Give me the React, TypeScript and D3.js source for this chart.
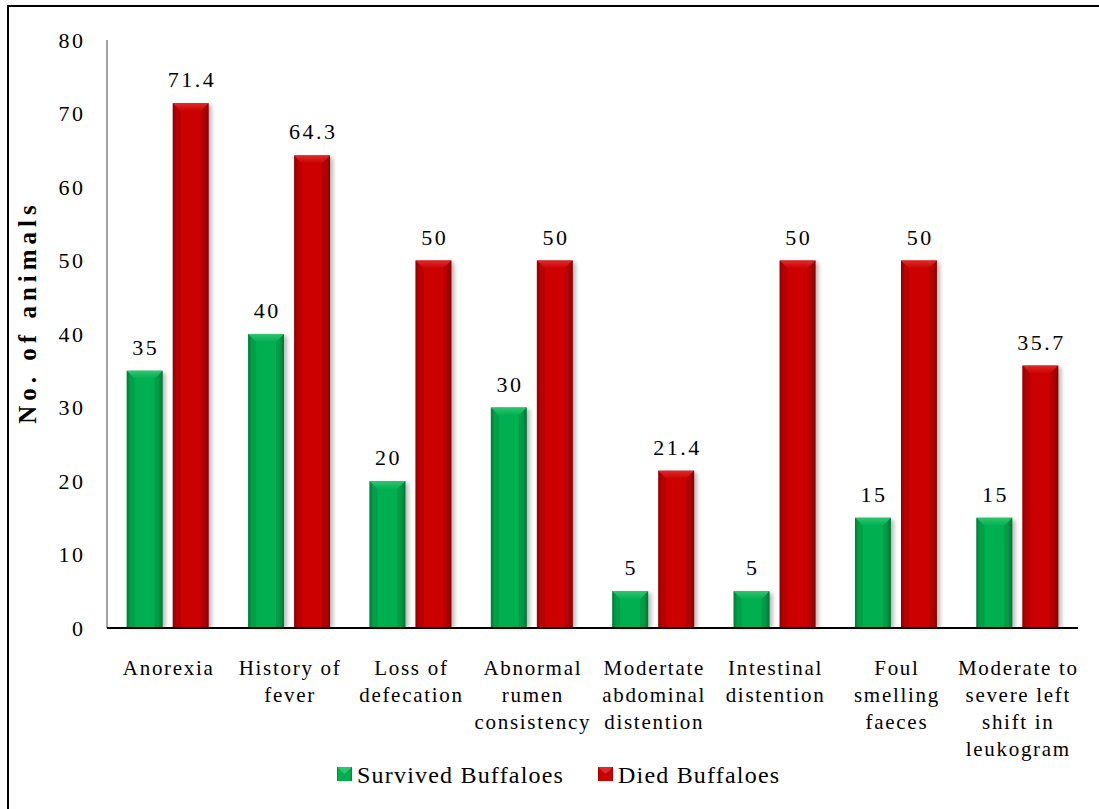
import React from 'react'
import * as d3 from 'd3'

const categories = [
    ['Anorexia'],
    ['History of', 'fever'],
    ['Loss of', 'defecation'],
    ['Abnormal', 'rumen', 'consistency'],
    ['Modertate', 'abdominal', 'distention'],
    ['Intestinal', 'distention'],
    ['Foul', 'smelling', 'faeces'],
    ['Moderate to', 'severe left', 'shift in', 'leukogram'],
]
const survived = [35, 40, 20, 30, 5, 5, 15, 15]
const died = [71.4, 64.3, 50, 50, 21.4, 50, 50, 35.7]
const seriesNames = ['Survived Buffaloes', 'Died Buffaloes']
const yTicks = [0, 10, 20, 30, 40, 50, 60, 70, 80]

const palette = [
    { main: '#00b050', edge: '#007a36', top: '#2fc46f', dark: '#006b2f' },
    { main: '#cc0000', edge: '#8a0000', top: '#dd2a2a', dark: '#7a0000' },
]

const font = 'Liberation Serif'

export default function App() {
    const width = 1099, height = 809
    const left = 107, right = 1078, top = 40, bottom = 628

    const x0 = d3.scaleBand<number>()
        .domain(d3.range(categories.length))
        .range([left, right])
        .paddingInner(0.325)
        .paddingOuter(0.1625)
    const x1 = d3.scaleBand<number>()
        .domain([0, 1])
        .range([0, x0.bandwidth()])
        .paddingInner(0.22)
    const y = d3.scaleLinear().domain([0, 80]).range([bottom, top])

    const series = [survived, died]
    const bw = x1.bandwidth()
    const bev = 8
    const ts = { fontFamily: font }

    return (
        <svg width={width} height={height} style={{ position: 'absolute', left: 0, top: 0 }}>
            <defs>
                {palette.map((p, i) => (
                    <linearGradient key={i} id={`g${i}`} x1="0" x2="1" y1="0" y2="0">
                        <stop offset="0" stopColor={p.edge} />
                        <stop offset="0.1" stopColor={p.main} />
                        <stop offset="0.88" stopColor={p.main} />
                        <stop offset="1" stopColor={p.edge} />
                    </linearGradient>
                ))}
                {palette.map((p, i) => (
                    <linearGradient key={'t' + i} id={`t${i}`} x1="0" x2="0" y1="0" y2="1">
                        <stop offset="0" stopColor={p.top} />
                        <stop offset="1" stopColor={p.main} />
                    </linearGradient>
                ))}
                <filter id="sh" x="-30%" y="-10%" width="160%" height="120%">
                    <feGaussianBlur stdDeviation="2" />
                </filter>
            </defs>
            <rect x={0} y={0} width={width} height={height} fill="#fff" />
            <rect x={8} y={6} width={width + 20} height={height + 20} fill="none" stroke="#000" strokeWidth={2} />

            {/* y axis */}
            <line x1={left} x2={left} y1={top} y2={bottom} stroke="#868686" strokeWidth={1.5} />
            {yTicks.map(t => (
                <text key={t} x={85.5} y={y(t)} dy="0.35em" textAnchor="end" style={ts} fontSize={22} letterSpacing={2.5}>{t}</text>
            ))}
            <text transform={`translate(27,312) rotate(-90)`} textAnchor="middle" dy="0.35em"
                style={ts} fontSize={25} fontWeight="bold" letterSpacing={5}>No. of animals</text>

            {/* bars */}
            {categories.map((c, ci) => series.map((s, si) => {
                const v = s[ci]
                const bx = x0(ci)! + x1(si)!
                const by = y(v)
                const h = bottom - by
                const p = palette[si]
                return (
                    <g key={`${ci}-${si}`}>
                        <rect x={bx + 3} y={by + 2} width={bw} height={h - 2} fill="#000" opacity={0.28} filter="url(#sh)" />
                        <rect x={bx} y={by} width={bw} height={h} fill={`url(#g${si})`} />
                        <polygon points={`${bx},${by} ${bx + bw},${by} ${bx + bw - bev},${by + bev} ${bx + bev},${by + bev}`} fill={`url(#t${si})`} />
                        <polygon points={`${bx},${by} ${bx + bev},${by + bev} ${bx + bev},${by + h} ${bx},${by + h}`} fill={p.edge} opacity={0.3} />
                        <polygon points={`${bx + bw},${by} ${bx + bw - bev},${by + bev} ${bx + bw - bev},${by + h} ${bx + bw},${by + h}`} fill={p.dark} opacity={0.3} />
                        <text x={bx + bw / 2 + 1.2} y={by - 16} textAnchor="middle" style={ts} fontSize={22} letterSpacing={2.5}>{v}</text>
                    </g>
                )
            }))}

            {/* x axis */}
            <line x1={left} x2={right} y1={bottom} y2={bottom} stroke="#000" strokeWidth={2} />
            {categories.map((c, ci) => {
                const cx = x0(ci)! + x0.bandwidth() / 2 + 1
                return (
                    <text key={ci} x={cx} y={675} textAnchor="middle" style={ts} fontSize={21} letterSpacing={1.7}>
                        {c.map((line, li) => (
                            <tspan key={li} x={cx} dy={li === 0 ? 0 : 27}>{line}</tspan>
                        ))}
                    </text>
                )
            })}

            {/* legend */}
            {seriesNames.map((n, i) => {
                const lx = [337, 598][i]
                const p = palette[i]
                return (
                    <g key={n}>
                        <rect x={lx} y={767} width={15} height={14} fill={`url(#g${i})`} />
                        <polygon points={`${lx},${767} ${lx + 15},${767} ${lx + 7.5},${774}`} fill={p.top} />
                        <text x={lx + 20} y={783} style={ts} fontSize={24} letterSpacing={1.2}>{n}</text>
                    </g>
                )
            })}
        </svg>
    )
}
